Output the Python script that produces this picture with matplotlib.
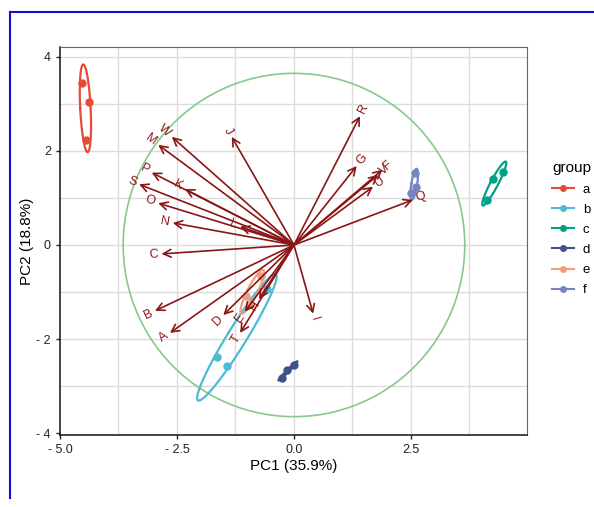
import numpy as np
import matplotlib
matplotlib.use('Agg')
import matplotlib.pyplot as plt
from matplotlib.lines import Line2D

plt.rcParams['font.family'] = ['Liberation Sans', 'DejaVu Sans']

# sample scores (PC1, PC2) per group
groups = ['a', 'b', 'c', 'd', 'e', 'f']
group_colors = ['#E64B35', '#4DBBD5', '#00A087', '#3C5488', '#F39B7F', '#7585C2']
pc1 = {
    'a': [-4.54, -4.38, -4.45],
    'b': [-0.58, -1.64, -1.44],
    'c': [4.26, 4.46, 4.12],
    'd': [-0.26, -0.14, 0.01],
    'e': [-0.70, -1.02, -0.95],
    'f': [2.51, 2.61, 2.59],
}
pc2 = {
    'a': [3.44, 3.05, 2.23],
    'b': [-0.94, -2.38, -2.57],
    'c': [1.40, 1.56, 0.96],
    'd': [-2.82, -2.66, -2.55],
    'e': [-0.65, -1.08, -1.25],
    'f': [1.10, 1.24, 1.53],
}

# variable loadings (arrow ends)
var_names = ['A', 'B', 'C', 'D', 'E', 'F', 'G', 'H', 'I', 'J', 'K', 'L',
             'M', 'N', 'O', 'P', 'Q', 'R', 'S', 'T', 'U', 'V', 'W']
var_x = [-2.65, -2.97, -2.83, -1.51, -1.05, 1.89, 1.34, -0.75, 0.41, -1.33, -2.33, -1.15,
         -2.90, -2.59, -2.90, -3.04, 2.54, 1.41, -3.31, -1.15, 1.69, 1.80, -2.61]
var_y = [-1.87, -1.40, -0.19, -1.49, -1.42, 1.60, 1.68, -1.15, -1.46, 2.30, 1.19, 0.39,
         2.13, 0.47, 0.89, 1.54, 0.96, 2.74, 1.29, -1.87, 1.24, 1.49, 2.30]

circle_r = 3.65

fig = plt.figure(figsize=(5.94, 5.07), dpi=100)
ax = fig.add_axes([60/594, (507-435)/507, 467/594, 388/507])

# grid
for gx in [-3.75, -2.5, -1.25, 0, 1.25, 2.5, 3.75]:
    ax.axvline(gx, color='#DCDCDC', lw=1.0, zorder=0)
for gy in [-3, -2, -1, 0, 1, 2, 3, 4]:
    ax.axhline(gy, color='#DCDCDC', lw=1.0, zorder=0)

# correlation circle
t = np.linspace(0, 2*np.pi, 300)
ax.plot(circle_r*np.cos(t), circle_r*np.sin(t), color='#86C98A', lw=1.2, zorder=1)

# points + normal ellipses (68%)
ed = np.sqrt(-2*np.log(1-0.68))
for g, col in zip(groups, group_colors):
    xs = np.array(pc1[g]); ys = np.array(pc2[g])
    ax.plot(xs, ys, 'o', color=col, ms=5, zorder=3)
    sigma = np.cov(np.vstack([xs, ys]))
    mu = np.array([xs.mean(), ys.mean()])
    vals, vecs = np.linalg.eigh(sigma)
    vals = np.clip(vals, 1e-5, None)
    circ = np.vstack([np.cos(t), np.sin(t)])
    ell = vecs @ (np.sqrt(vals)[:, None]*circ)*ed + mu[:, None]
    ax.plot(ell[0], ell[1], color=col, lw=1.6, zorder=3)

# arrows and labels
arrow_col = '#8B1515'
for name, x, y in zip(var_names, var_x, var_y):
    ax.annotate('', xy=(x, y), xytext=(0, 0),
                arrowprops=dict(arrowstyle='->,head_length=0.55,head_width=0.28',
                                color=arrow_col, lw=1.2, shrinkA=0, shrinkB=0),
                zorder=4)
    ang = np.degrees(np.arctan(y/x))
    s = np.sign(x)
    ux, uy = np.cos(np.radians(ang))*s, np.sin(np.radians(ang))*s
    ax.annotate(name, xy=(x, y), xytext=(2.5*ux, 2.5*uy), textcoords='offset points',
                rotation=ang, rotation_mode='anchor',
                ha='left' if x > 0 else 'right', va='center',
                color=arrow_col, fontsize=9, zorder=5)

ax.set_xlim(-5.0, 4.98)
ax.set_ylim(-4.04, 4.21)
ax.set_xticks([-5.0, -2.5, 0.0, 2.5])
ax.set_xticklabels(['- 5.0', '- 2.5', '0.0', '2.5'])
ax.set_yticks([-4, -2, 0, 2, 4])
ax.set_yticklabels(['- 4', '- 2', '0', '2', '4'])
ax.tick_params(labelsize=9, colors='#222222', length=3, width=1)
for side in ['top', 'right']:
    ax.spines[side].set_color('#666666')
for side in ['left', 'bottom']:
    ax.spines[side].set_color('#111111')
    ax.spines[side].set_linewidth(1.1)
ax.set_xlabel('PC1 (35.9%)', fontsize=11, labelpad=2)
ax.set_ylabel('PC2 (18.8%)', fontsize=11, labelpad=2)

handles = [Line2D([0], [0], color=c, marker='o', ms=4, lw=1.5) for c in group_colors]
leg = fig.legend(handles, groups, title='group', loc='upper left',
                 bbox_to_anchor=(0.91, 0.705), frameon=False, fontsize=9.5,
                 title_fontsize=11, handlelength=1.6, labelspacing=0.6,
                 handletextpad=0.7)
leg._legend_box.align = 'left'

# blue frame
fig.add_artist(Line2D([10/594, 10/594], [1-12/507, 1-498/507], color='#1010CC', lw=1.5))
fig.add_artist(Line2D([10/594, 1], [1-12/507, 1-12/507], color='#1010CC', lw=1.5))

fig.savefig('out.png', dpi=100)
